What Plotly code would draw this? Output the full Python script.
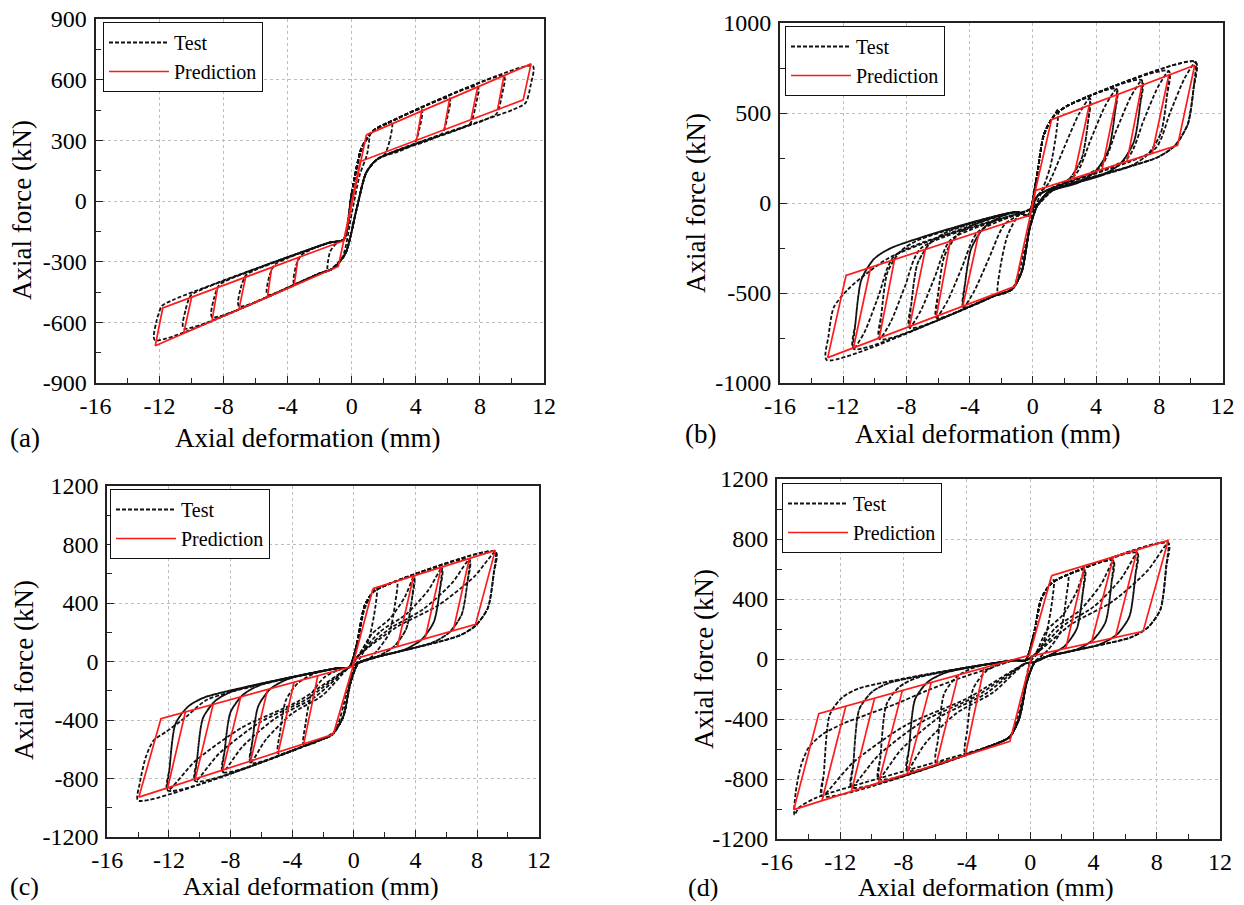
import plotly.graph_objects as go

FONT = "Liberation Serif, Times New Roman, serif"

# ---------------- axis ticks ----------------
X_TICKS = [-16, -12, -8, -4, 0, 4, 8, 12]
X_TICK_TEXT = ["-16", "-12", "-8", "-4", "0", "4", "8", "12"]
A_Y_TICKS = [-900, -600, -300, 0, 300, 600, 900]
A_Y_TICK_TEXT = ["-900", "-600", "-300", "0", "300", "600", "900"]
B_Y_TICKS = [-1000, -500, 0, 500, 1000]
B_Y_TICK_TEXT = ["-1000", "-500", "0", "500", "1000"]
CD_Y_TICKS = [-1200, -800, -400, 0, 400, 800, 1200]
CD_Y_TICK_TEXT = ["-1200", "-800", "-400", "0", "400", "800", "1200"]

# ---------------- panel (a) ----------------
A_PRED_X = [0.91, 11.19, 10.70, 0.52, -0.84, -12.27, -11.80, -0.47, 0.91]
A_PRED_Y = [327, 678, 500, 195, -324, -716, -529, -195, 327]
A_TCH_TOP_X = [4.36, 6.10, 7.86, 9.50]
A_TCH_TOP_Y = [445, 504, 564, 620]
A_TCH_BOT_X = [4.04, 5.77, 7.44, 9.10]
A_TCH_BOT_Y = [300, 352, 402, 452]
A_CCH_BOT_X = [-10.50, -8.73, -7.05, -5.27, -3.60]
A_CCH_BOT_Y = [-655, -595, -537, -476, -419]
A_CCH_TOP_X = [-10.00, -8.38, -6.63, -5.00, -3.35]
A_CCH_TOP_Y = [-476, -428, -377, -329, -280]

A_TEST_X = [
    [-0.5, 0.0, 0.6, 1.1, 0.95, 0.5, 0.0, -0.6, -1.5, -1.35, -0.9, -0.5],
    [-0.5, 0.0, 0.6, 1.3, 2.5, 2.38, 2.05, 1.6, 0.9, 0.3, -0.4, -1.2, -2.0, -3.6, -3.48, -3.15, -2.4, -1.4, -0.5],
    [-0.5, 0.0, 0.6, 1.3, 2.2, 4.36, 4.24, 3.91, 3.16, 1.6, 0.9, 0.3, -0.4, -1.2, -2.0, -5.27, -5.15, -4.82, -4.07, -1.4, -0.5],
    [-0.5, 0.0, 0.6, 1.3, 2.2, 6.10, 5.98, 5.65, 4.90, 1.6, 0.9, 0.3, -0.4, -1.2, -2.0, -7.05, -6.93, -6.60, -5.85, -1.4, -0.5],
    [-0.5, 0.0, 0.6, 1.3, 2.2, 7.86, 7.74, 7.41, 6.66, 1.6, 0.9, 0.3, -0.4, -1.2, -2.0, -8.73, -8.61, -8.28, -7.53, -1.4, -0.5],
    [-0.5, 0.0, 0.6, 1.3, 2.2, 9.50, 9.38, 9.05, 8.30, 1.6, 0.9, 0.3, -0.4, -1.2, -2.0, -10.50, -10.38, -10.05, -9.30, -1.4, -0.5],
    [-0.5, 0.0, 0.6, 1.3, 2.2, 11.30, 11.18, 10.85, 10.10, 1.6, 0.9, 0.3, -0.4, -1.2, -2.0, -12.30, -12.20, -11.85, -11.10, -1.4, -0.5],
]
A_TEST_Y = [
    [-190, 40, 250, 330, 230, 130, -60, -280, -345, -250, -205, -190],
    [-190, 40, 260, 345, 393, 303, 230, 207, 140, -40, -260, -335, -358, -410, -320, -267, -235, -206, -190],
    [-190, 40, 260, 345, 384, 453, 363, 284, 252, 207, 140, -40, -260, -335, -358, -463, -373, -315, -284, -206, -190],
    [-190, 40, 260, 345, 384, 509, 419, 334, 303, 207, 140, -40, -260, -335, -358, -520, -430, -367, -335, -206, -190],
    [-190, 40, 260, 345, 384, 565, 475, 385, 354, 207, 140, -40, -260, -335, -358, -574, -484, -416, -384, -206, -190],
    [-190, 40, 260, 345, 384, 617, 527, 433, 401, 207, 140, -40, -260, -335, -358, -630, -540, -467, -435, -206, -190],
    [-190, 40, 260, 345, 384, 668, 578, 485, 453, 207, 140, -40, -260, -335, -358, -688, -598, -519, -487, -206, -190],
]

# ---------------- panel (b) ----------------
B_PRED_X = [1.18, 10.24, 9.16, 0.18, -1.13, -12.98, -11.82, -0.20, 1.18]
B_PRED_Y = [463, 765, 320, 70, -463, -859, -402, -68, 463]
B_TCH_TOP_X = [3.57, 5.33, 6.89, 8.60]
B_TCH_TOP_Y = [543, 601, 653, 710]
B_TCH_BOT_X = [2.57, 4.38, 5.96, 7.55]
B_TCH_BOT_Y = [136, 187, 231, 275]
B_CCH_BOT_X = [-11.35, -9.72, -7.80, -6.10, -4.43]
B_CCH_BOT_Y = [-804, -750, -686, -629, -573]
B_CCH_TOP_X = [-10.26, -8.75, -6.80, -5.23, -3.40]
B_CCH_TOP_Y = [-357, -313, -257, -212, -160]

B_TEST_X = [
    [-0.3, 0.2, 0.7, 1.3, 1.6, 1.5, 1.1, 0.5, 0.0, -0.5, -1.3, -2.2, -2.1, -1.6, -0.8, -0.3],
    [-0.3, 0.2, 0.7, 1.3, 2.2, 3.6, 3.48, 3.1, 2.3, 1.2, 0.3, -0.2, -0.7, -1.3, -2.4, -4.4, -4.28, -3.9, -3.1, -2.0, -1.0, -0.3,
     0.3, 1.0, 2.0, 2.9, 3.6, 3.48, 3.1, 2.3, 1.2, 0.3, -0.3, -1.8, -2.8, -3.7, -4.4, -4.28, -3.9, -3.1, -2.0, -1.0, -0.3],
    [-0.3, 0.2, 0.7, 1.3, 2.2, 5.3, 5.18, 4.8, 4.0, 2.9, 1.0, 0.3, -0.2, -0.7, -1.3, -2.4, -6.1, -5.98, -5.6, -4.8, -3.7, -1.0, -0.3,
     0.3, 2.7, 3.7, 4.6, 5.3, 5.18, 4.8, 4.0, 2.9, 1.0, 0.3, -0.3, -3.5, -4.5, -5.4, -6.1, -5.98, -5.6, -4.8, -3.7, -1.0, -0.3],
    [-0.3, 0.2, 0.7, 1.3, 2.2, 6.9, 6.78, 6.4, 5.6, 4.5, 1.0, 0.3, -0.2, -0.7, -1.3, -2.4, -7.8, -7.68, -7.3, -6.5, -5.4, -1.0, -0.3,
     0.3, 4.3, 5.3, 6.2, 6.9, 6.78, 6.4, 5.6, 4.5, 1.0, 0.3, -0.3, -5.2, -6.2, -7.1, -7.8, -7.68, -7.3, -6.5, -5.4, -1.0, -0.3],
    [-0.3, 0.2, 0.7, 1.3, 2.2, 8.6, 8.48, 8.1, 7.3, 6.2, 1.0, 0.3, -0.2, -0.7, -1.3, -2.4, -9.7, -9.58, -9.2, -8.4, -7.3, -1.0, -0.3,
     0.3, 6.0, 7.0, 7.9, 8.6, 8.48, 8.1, 7.3, 6.2, 1.0, 0.3, -0.3, -7.1, -8.1, -9.0, -9.7, -9.58, -9.2, -8.4, -7.3, -1.0, -0.3],
    [-0.3, 0.2, 0.7, 1.3, 2.2, 10.3, 10.18, 9.8, 9.0, 7.9, 1.0, 0.3, -0.2, -0.7, -1.3, -2.4, -11.35, -11.23, -10.85, -10.05, -8.95, -1.0, -0.3,
     0.3, 7.7, 8.7, 9.6, 10.3, 10.18, 9.8, 9.0, 7.9, 1.0, 0.3, -0.3, -8.75, -9.75, -10.65, -11.35, -11.23, -10.85, -10.05, -8.95, -1.0, -0.3],
    [-0.3, 0.2, 0.7, 1.3, 2.2, 10.3, 10.18, 9.8, 9.0, 7.9, 1.0, 0.3, -0.2, -0.7, -1.3, -2.4, -13.05, -12.93, -12.6, -11.7, -10.5, -9.0, -1.0, -0.3],
]
B_TEST_Y = [
    [-70, 120, 380, 480, 520, 400, 200, 50, -50, -250, -478, -508, -380, -180, -60, -70],
    [-70, 120, 380, 480, 541, 583, 443, 249, 132, 66, -10, -140, -380, -478, -515, -581, -441, -253, -138, -75, -50, -70,
     40, 111, 312, 492, 583, 443, 249, 132, 66, -10, -40, -120, -312, -488, -581, -441, -253, -138, -75, -50, -70],
    [-70, 120, 380, 480, 541, 634, 494, 297, 180, 114, 61, -10, -140, -380, -478, -515, -637, -497, -295, -180, -118, -50, -70,
     40, 158, 361, 543, 634, 494, 297, 180, 114, 61, -10, -40, -163, -361, -544, -637, -497, -295, -180, -118, -50, -70],
    [-70, 120, 380, 480, 541, 682, 542, 342, 224, 159, 61, -10, -140, -380, -478, -515, -693, -553, -338, -223, -160, -50, -70,
     40, 203, 408, 591, 682, 542, 342, 224, 159, 61, -10, -40, -205, -410, -600, -693, -553, -338, -223, -160, -50, -70],
    [-70, 120, 380, 480, 541, 733, 593, 389, 272, 206, 61, -10, -140, -380, -478, -515, -756, -616, -385, -270, -208, -50, -70,
     40, 251, 457, 642, 733, 593, 389, 272, 206, 61, -10, -40, -253, -465, -662, -756, -616, -385, -270, -208, -50, -70],
    [-70, 120, 380, 480, 541, 784, 644, 437, 320, 254, 61, -10, -140, -380, -478, -515, -810, -670, -426, -311, -249, -50, -70,
     40, 298, 506, 693, 784, 644, 437, 320, 254, 61, -10, -40, -294, -513, -717, -810, -670, -426, -311, -249, -50, -70],
    [-70, 120, 380, 480, 541, 784, 644, 437, 320, 254, 61, -10, -140, -380, -478, -515, -872, -740, -580, -480, -390, -300, -50, -70],
]

# ---------------- panel (c) ----------------
C_PRED_X = [1.24, 9.18, 7.90, 0.09, -1.33, -13.95, -12.52, -0.09, 1.24]
C_PRED_Y = [498, 760, 254, 19, -498, -927, -391, -33, 498]
C_TCH_TOP_X = [3.88, 5.67, 7.50]
C_TCH_TOP_Y = [585, 644, 705]
C_TCH_BOT_X = [2.83, 4.62, 6.45]
C_TCH_BOT_Y = [101, 155, 210]
C_CCH_BOT_X = [-12.08, -10.29, -8.50, -6.70, -4.90, -3.25]
C_CCH_BOT_Y = [-863, -803, -742, -681, -619, -563]
C_CCH_TOP_X = [-10.93, -9.13, -7.34, -5.60, -3.88, -2.34]
C_CCH_TOP_Y = [-345, -293, -242, -192, -142, -98]

C_TEST_X = [
    [-0.3, 0.2, 0.7, 1.2, 1.5, 1.38, 1.0, 0.5, 0.0, -0.5, -1.2, -2.2, -3.25, -3.13, -2.75, -1.9, -0.8, -0.3],
    [-0.3, 0.2, 0.7, 1.3, 2.2, 2.8, 2.68, 2.3, 1.5, 1.0, 0.3, -0.2, -0.7, -1.4, -2.4, -4.9, -4.78, -4.4, -3.6, -2.5, -1.0, -0.3],
    [-0.3, 0.2, 0.7, 1.3, 2.2, 3.9, 3.78, 3.4, 2.6, 1.5, 0.3, -0.2, -0.7, -1.4, -2.4, -6.7, -6.58, -6.2, -5.4, -4.3, -1.0, -0.3,
     0.3, 1.17, 2.34, 3.32, 3.9, 3.78, 3.4, 2.6, 1.5, 0.3, -0.3, -2.01, -4.02, -5.70, -6.7, -6.58, -6.2, -5.4, -4.3, -1.0, -0.3],
    [-0.3, 0.2, 0.7, 1.3, 2.2, 5.7, 5.58, 5.2, 4.4, 3.3, 1.0, 0.3, -0.2, -0.7, -1.4, -2.4, -8.5, -8.38, -8.0, -7.2, -6.1, -1.0, -0.3,
     0.3, 1.71, 3.42, 4.85, 5.7, 5.58, 5.2, 4.4, 3.3, 1.0, 0.3, -0.3, -2.55, -5.10, -7.23, -8.5, -8.38, -8.0, -7.2, -6.1, -1.0, -0.3],
    [-0.3, 0.2, 0.7, 1.3, 2.2, 7.5, 7.38, 7.0, 6.2, 5.1, 1.0, 0.3, -0.2, -0.7, -1.4, -2.4, -10.29, -10.17, -9.79, -8.99, -7.89, -1.0, -0.3,
     0.3, 2.25, 4.5, 6.38, 7.5, 7.38, 7.0, 6.2, 5.1, 1.0, 0.3, -0.3, -3.09, -6.17, -8.75, -10.29, -10.17, -9.79, -8.99, -7.89, -1.0, -0.3],
    [-0.3, 0.2, 0.7, 1.3, 2.2, 9.2, 9.08, 8.7, 7.9, 6.8, 1.0, 0.3, -0.2, -0.7, -1.4, -2.4, -12.08, -11.96, -11.58, -10.78, -9.68, -1.0, -0.3,
     0.3, 2.76, 5.52, 7.82, 9.2, 9.08, 8.7, 7.9, 6.8, 1.0, 0.3, -0.3, -3.62, -7.25, -10.27, -12.08, -11.96, -11.58, -10.78, -9.68, -1.0, -0.3],
    [-0.3, 0.2, 0.7, 1.3, 2.2, 9.2, 9.08, 8.7, 7.9, 6.8, 1.0, 0.3, -0.2, -0.7, -1.4, -2.4, -14.0, -13.9, -13.5, -13.0, -12.2, -10.9, -9.5, -1.0, -0.3],
]
C_TEST_Y = [
    [-40, 120, 360, 470, 505, 360, 160, 40, -40, -230, -470, -540, -573, -423, -225, -107, -50, -40],
    [-40, 120, 380, 480, 527, 547, 397, 194, 72, 18, -10, -140, -380, -500, -544, -630, -480, -263, -145, -80, -45, -40],
    [-40, 120, 380, 480, 527, 582, 432, 223, 102, 32, -10, -140, -380, -500, -544, -693, -543, -305, -186, -121, -45, -40,
     40, 188, 293, 443, 582, 432, 223, 102, 32, -10, -40, -230, -357, -533, -693, -543, -305, -186, -121, -45, -40],
    [-40, 120, 380, 480, 527, 639, 489, 272, 150, 81, 18, -10, -140, -380, -500, -544, -756, -606, -346, -228, -162, -45, -40,
     40, 204, 325, 490, 639, 489, 272, 150, 81, 18, -10, -40, -245, -389, -582, -756, -606, -346, -228, -162, -45, -40],
    [-40, 120, 380, 480, 527, 697, 547, 321, 199, 129, 18, -10, -140, -380, -500, -544, -818, -668, -387, -269, -204, -45, -40,
     40, 219, 357, 537, 697, 547, 321, 199, 129, 18, -10, -40, -259, -420, -630, -818, -668, -387, -269, -204, -45, -40],
    [-40, 120, 380, 480, 527, 751, 601, 366, 245, 175, 18, -10, -140, -380, -500, -544, -882, -732, -428, -310, -245, -45, -40,
     40, 234, 387, 581, 751, 601, 366, 245, 175, 18, -10, -40, -273, -451, -679, -882, -732, -428, -310, -245, -45, -40],
    [-40, 120, 380, 480, 527, 751, 601, 366, 245, 175, 18, -10, -140, -380, -500, -544, -950, -836, -653, -540, -482, -380, -260, -45, -40],
]

# ---------------- panel (d) ----------------
D_PRED_X = [1.36, 8.73, 7.14, 0.10, -1.28, -14.94, -13.36, -0.05, 1.36]
D_PRED_Y = [556, 791, 184, 20, -549, -1004, -364, 25, 556]
D_TCH_TOP_X = [3.45, 5.26, 6.77]
D_TCH_TOP_Y = [623, 680, 729]
D_TCH_BOT_X = [2.25, 3.87, 5.38]
D_TCH_BOT_Y = [70, 108, 143]
D_CCH_BOT_X = [-13.16, -11.30, -9.58, -7.77, -5.94, -4.10]
D_CCH_BOT_Y = [-945, -883, -825, -765, -704, -643]
D_CCH_TOP_X = [-11.65, -9.84, -8.08, -6.26, -4.55, -2.92]
D_CCH_TOP_Y = [-314, -264, -211, -159, -109, -59]

D_TEST_X = [
    [-0.3, 0.2, 0.7, 1.2, 1.5, 1.38, 1.0, 0.5, 0.0, -0.5, -1.3, -2.4, -4.10, -3.98, -3.6, -2.8, -1.7, -1.0, -0.3],
    [-0.3, 0.2, 0.7, 1.3, 2.0, 2.4, 2.28, 1.9, 1.1, 0.3, -0.2, -0.7, -1.3, -2.4, -5.94, -5.82, -5.44, -4.64, -3.54, -1.0, -0.3],
    [-0.3, 0.2, 0.7, 1.3, 2.0, 3.45, 3.33, 2.95, 2.15, 1.05, 0.3, -0.2, -0.7, -1.3, -2.4, -7.77, -7.65, -7.27, -6.47, -5.37, -1.0, -0.3,
     0.3, 1.04, 2.07, 2.93, 3.45, 3.33, 2.95, 2.15, 1.05, 0.3, -0.3, -2.33, -4.66, -6.60, -7.77, -7.65, -7.27, -6.47, -5.37, -1.0, -0.3],
    [-0.3, 0.2, 0.7, 1.3, 2.0, 5.26, 5.14, 4.76, 3.96, 2.86, 1.0, 0.3, -0.2, -0.7, -1.3, -2.4, -9.58, -9.46, -9.08, -8.28, -7.18, -1.0, -0.3,
     0.3, 1.58, 3.16, 4.47, 5.26, 5.14, 4.76, 3.96, 2.86, 1.0, 0.3, -0.3, -2.87, -5.75, -8.14, -9.58, -9.46, -9.08, -8.28, -7.18, -1.0, -0.3],
    [-0.3, 0.2, 0.7, 1.3, 2.0, 6.77, 6.65, 6.27, 5.47, 4.37, 1.0, 0.3, -0.2, -0.7, -1.3, -2.4, -11.30, -11.18, -10.8, -10.0, -8.9, -1.0, -0.3,
     0.3, 2.03, 4.06, 5.75, 6.77, 6.65, 6.27, 5.47, 4.37, 1.0, 0.3, -0.3, -3.39, -6.78, -9.61, -11.30, -11.18, -10.8, -10.0, -8.9, -1.0, -0.3],
    [-0.3, 0.2, 0.7, 1.3, 2.0, 8.73, 8.61, 8.23, 7.43, 6.33, 1.0, 0.3, -0.2, -0.7, -1.3, -2.4, -13.16, -13.04, -12.66, -11.86, -10.76, -1.0, -0.3,
     0.3, 2.62, 5.24, 7.42, 8.73, 8.61, 8.23, 7.43, 6.33, 1.0, 0.3, -0.3, -3.95, -7.90, -11.19, -13.16, -13.04, -12.66, -11.86, -10.76, -1.0, -0.3],
    [-0.3, 0.2, 0.7, 1.3, 2.0, 8.73, 8.61, 8.23, 7.43, 6.33, 1.0, 0.3, -0.2, -0.7, -1.3, -2.4, -13.5, -14.6, -14.9, -14.82, -14.5, -14.0,
     -13.1, -11.8, -10.3, -8.5, -6.5, -4.5, -2.5, -1.0, -0.3],
]
D_TEST_Y = [
    [-10, 150, 400, 490, 528, 378, 160, 40, -20, -280, -520, -575, -628, -478, -198, -83, -22, -9, -10],
    [-10, 150, 400, 500, 545, 559, 409, 177, 57, -20, -150, -400, -520, -575, -686, -536, -233, -118, -57, -9, -10],
    [-10, 150, 400, 500, 545, 594, 444, 202, 83, 16, -20, -150, -400, -520, -575, -744, -594, -268, -153, -92, -9, -10,
     30, 190, 294, 448, 594, 444, 202, 83, 16, -20, -30, -222, -362, -559, -744, -594, -268, -153, -92, -9, -10],
    [-10, 150, 400, 500, 545, 656, 506, 245, 126, 60, 15, -20, -150, -400, -520, -575, -801, -651, -302, -187, -126, -9, -10,
     30, 205, 326, 496, 656, 506, 245, 126, 60, 15, -20, -30, -235, -389, -602, -801, -651, -302, -187, -126, -9, -10],
    [-10, 150, 400, 500, 545, 707, 557, 282, 162, 96, 15, -20, -150, -400, -520, -575, -855, -705, -335, -220, -159, -9, -10,
     30, 217, 352, 536, 707, 557, 282, 162, 96, 15, -20, -30, -247, -416, -644, -855, -705, -335, -220, -159, -9, -10],
    [-10, 150, 400, 500, 545, 774, 624, 329, 209, 143, 15, -20, -150, -400, -520, -575, -914, -764, -370, -255, -194, -9, -10,
     30, 233, 386, 589, 774, 624, 329, 209, 143, 15, -20, -30, -261, -444, -690, -914, -764, -370, -255, -194, -9, -10],
    [-10, 150, 400, 500, 545, 774, 624, 329, 209, 143, 15, -20, -150, -400, -520, -575, -924, -990, -1040, -890, -716, -590,
     -500, -430, -370, -300, -210, -130, -60, -9, -10],
]


def join_cycles(cycles):
    """Concatenate loop paths, separated by gaps."""
    out = []
    for c in cycles:
        out.extend(c)
        out.append(None)
    return out


def pred_path(px, py, ttx, tty, tbx, tby, cbx, cby, ctx, cty):
    """Outer multilinear loop followed by the unloading chords."""
    xs, ys = list(px) + [None], list(py) + [None]
    for a, b, c, d in zip(ttx, tty, tbx, tby):
        xs += [a, c, None]
        ys += [b, d, None]
    for a, b, c, d in zip(cbx, cby, ctx, cty):
        xs += [a, c, None]
        ys += [b, d, None]
    return xs, ys


panels = [
    ("x", "y", "legend", A_TEST_X, A_TEST_Y,
     (A_PRED_X, A_PRED_Y, A_TCH_TOP_X, A_TCH_TOP_Y, A_TCH_BOT_X, A_TCH_BOT_Y,
      A_CCH_BOT_X, A_CCH_BOT_Y, A_CCH_TOP_X, A_CCH_TOP_Y)),
    ("x2", "y2", "legend2", B_TEST_X, B_TEST_Y,
     (B_PRED_X, B_PRED_Y, B_TCH_TOP_X, B_TCH_TOP_Y, B_TCH_BOT_X, B_TCH_BOT_Y,
      B_CCH_BOT_X, B_CCH_BOT_Y, B_CCH_TOP_X, B_CCH_TOP_Y)),
    ("x3", "y3", "legend3", C_TEST_X, C_TEST_Y,
     (C_PRED_X, C_PRED_Y, C_TCH_TOP_X, C_TCH_TOP_Y, C_TCH_BOT_X, C_TCH_BOT_Y,
      C_CCH_BOT_X, C_CCH_BOT_Y, C_CCH_TOP_X, C_CCH_TOP_Y)),
    ("x4", "y4", "legend4", D_TEST_X, D_TEST_Y,
     (D_PRED_X, D_PRED_Y, D_TCH_TOP_X, D_TCH_TOP_Y, D_TCH_BOT_X, D_TCH_BOT_Y,
      D_CCH_BOT_X, D_CCH_BOT_Y, D_CCH_TOP_X, D_CCH_TOP_Y)),
]

fig = go.Figure()
for xa, ya, lg, tx, ty, pred in panels:
    fig.add_trace(go.Scatter(
        x=join_cycles(tx), y=join_cycles(ty), xaxis=xa, yaxis=ya, legend=lg,
        mode="lines", name="Test", connectgaps=False,
        line=dict(color="#111111", width=1.8, dash="4px,2px", shape="spline", smoothing=0.7),
    ))
    rx, ry = pred_path(*pred)
    fig.add_trace(go.Scatter(
        x=rx, y=ry, xaxis=xa, yaxis=ya, legend=lg,
        mode="lines", name="Prediction", connectgaps=False,
        line=dict(color="#ff1a1a", width=1.7),
    ))


def axis(domain, anchor, rng, vals, text, minor_dtick, standoff):
    return dict(
        domain=domain, anchor=anchor, range=rng, automargin=False,
        tickmode="array", tickvals=vals, ticktext=text,
        ticks="inside", ticklen=7, tickwidth=1.4, tickcolor="#222",
        showline=True, linecolor="#222", linewidth=2, mirror=True,
        showgrid=True, gridcolor="#bdbdbd", griddash="3px,3px", gridwidth=1,
        zeroline=False, ticklabelstandoff=standoff,
        minor=dict(ticks="inside", ticklen=5, tickwidth=1.3, tickcolor="#222",
                   tickmode="linear", tick0=0, dtick=minor_dtick, showgrid=False),
        tickfont=dict(family=FONT, size=24, color="black"),
        fixedrange=True,
    )


W, H = 1244, 905


def px_x(v):
    return v / W


def px_y(v):
    return 1 - v / H


legend_style = dict(
    bgcolor="white", bordercolor="#111", borderwidth=1,
    font=dict(family=FONT, size=20, color="black"),
    xanchor="left", yanchor="top", itemwidth=60, tracegroupgap=0,
)

fig.update_layout(
    template="none",
    width=W, height=H,
    margin=dict(l=0, r=0, t=0, b=0, pad=0),
    paper_bgcolor="white", plot_bgcolor="white",
    font=dict(family=FONT, color="black"),
    xaxis=axis([px_x(95.5), px_x(544)], "y", [-16, 12], X_TICKS, X_TICK_TEXT, 2, 0),
    yaxis=axis([px_y(383), px_y(19)], "x", [-900, 900], A_Y_TICKS, A_Y_TICK_TEXT, 150, 2),
    xaxis2=axis([px_x(780), px_x(1222.5)], "y2", [-16, 12], X_TICKS, X_TICK_TEXT, 2, 0),
    yaxis2=axis([px_y(383), px_y(23)], "x2", [-1000, 1000], B_Y_TICKS, B_Y_TICK_TEXT, 250, 2),
    xaxis3=axis([px_x(107.3), px_x(538.7)], "y3", [-16, 12], X_TICKS, X_TICK_TEXT, 2, 0),
    yaxis3=axis([px_y(837), px_y(486)], "x3", [-1200, 1200], CD_Y_TICKS, CD_Y_TICK_TEXT, 200, 2),
    xaxis4=axis([px_x(777), px_x(1220)], "y4", [-16, 12], X_TICKS, X_TICK_TEXT, 2, 0),
    yaxis4=axis([px_y(839), px_y(479)], "x4", [-1200, 1200], CD_Y_TICKS, CD_Y_TICK_TEXT, 200, 2),
    legend=dict(x=px_x(103), y=px_y(22), **legend_style),
    legend2=dict(x=px_x(785), y=px_y(26), **legend_style),
    legend3=dict(x=px_x(110), y=px_y(489), **legend_style),
    legend4=dict(x=px_x(782), y=px_y(483), **legend_style),
)

# axis titles and panel tags
labels = [
    # (text, x_px, y_px, angle, size)
    ("Axial force (kN)", 22, 210, -90, 27),
    ("Axial deformation (mm)", 307, 438, 0, 27),
    ("(a)", 25, 438, 0, 27),
    ("Axial force (kN)", 696, 203, -90, 27),
    ("Axial deformation (mm)", 988, 434, 0, 27),
    ("(b)", 700, 434, 0, 27),
    ("Axial force (kN)", 24, 670, -90, 27),
    ("Axial deformation (mm)", 311, 886, 0, 26),
    ("(c)", 24, 886, 0, 26),
    ("Axial force (kN)", 704, 659, -90, 27),
    ("Axial deformation (mm)", 986, 887, 0, 26),
    ("(d)", 703, 887, 0, 26),
]
for text, xp, yp, ang, size in labels:
    fig.add_annotation(
        text=text, x=px_x(xp), y=px_y(yp), xref="paper", yref="paper",
        xanchor="center", yanchor="middle", showarrow=False, textangle=ang,
        borderpad=0, font=dict(family=FONT, size=size, color="black"),
    )

fig.write_html("out.html")
